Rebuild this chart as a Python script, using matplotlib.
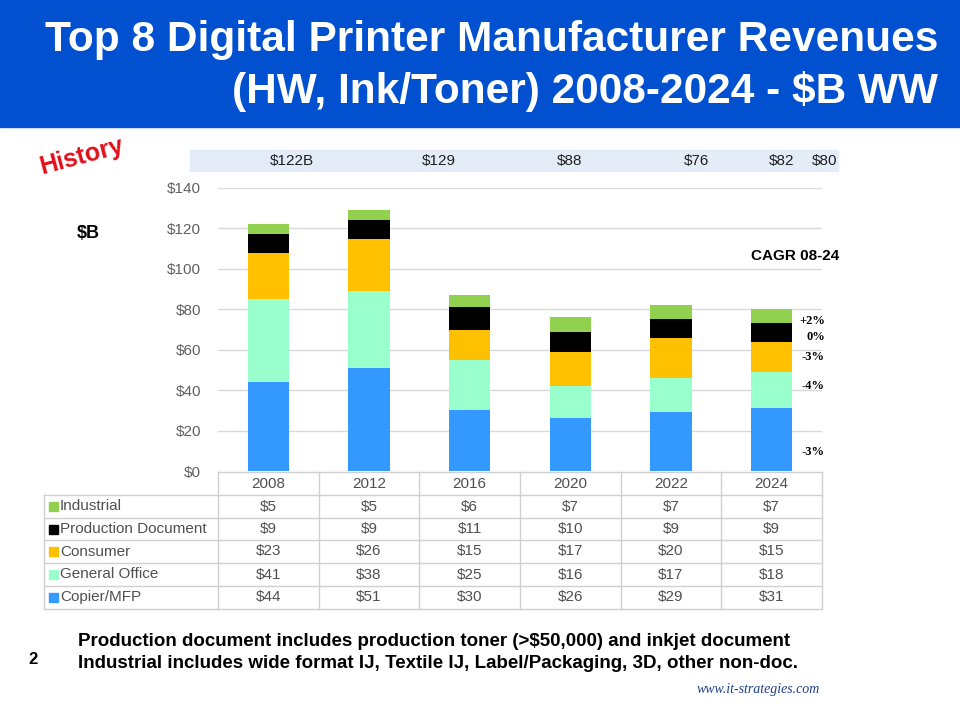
import numpy as np
import matplotlib
matplotlib.use('Agg')
import matplotlib.pyplot as plt
from matplotlib.patches import Rectangle

# Data
years = ['2008', '2012', '2016', '2020', '2022', '2024']
copier = [44, 51, 30, 26, 29, 31]
general_office = [41, 38, 25, 16, 17, 18]
consumer = [23, 26, 15, 17, 20, 15]
production_doc = [9, 9, 11, 10, 9, 9]
industrial = [5, 5, 6, 7, 7, 7]
totals = ['$122B', '$129', '$88', '$76', '$82', '$80']
cagr = ['+2%', '0%', '-3%', '-4%', '-3%']

series_names = ['Industrial', 'Production Document', 'Consumer', 'General Office', 'Copier/MFP']
series_vals = [industrial, production_doc, consumer, general_office, copier]
series_cols = ['#92D050', '#000000', '#FFC000', '#99FFCC', '#3399FF']

W, H = 960, 720
SANS = ['Liberation Sans', 'DejaVu Sans']
SERIF = ['Liberation Serif', 'DejaVu Serif']

fig = plt.figure(figsize=(9.6, 7.2), dpi=100)
fig.patch.set_facecolor('white')

# overlay in pixel coordinates for the annotations and the table
ov = fig.add_axes([0, 0, 1, 1])
ov.set_xlim(0, W)
ov.set_ylim(H, 0)
ov.axis('off')

# title banner
ov.add_patch(Rectangle((0, 0), W, 127, color='#0050D0', zorder=0))
ov.text(938, 40, 'Top 8 Digital Printer Manufacturer Revenues', ha='right', va='center',
        color='white', fontsize=30.5, fontweight='bold', family=SANS)
ov.text(938, 92, '(HW, Ink/Toner) 2008-2024 - $B WW', ha='right', va='center',
        color='white', fontsize=30.5, fontweight='bold', family=SANS)

ov.text(82, 156, 'History', ha='center', va='center', color='#E0101A', fontsize=18,
        fontweight='bold', rotation=15, family=SANS)
ov.text(88, 233, '$B', ha='center', va='center', fontsize=13, fontweight='bold', family=SANS)

# bar chart
ax_l, ax_r, ax_t, ax_b = 218, 822, 188, 471
ax = fig.add_axes([ax_l / W, 1 - ax_b / H, (ax_r - ax_l) / W, (ax_b - ax_t) / H])
x = np.arange(len(years))
bottom = np.zeros(len(years))
for vals, col in zip(series_vals[::-1], series_cols[::-1]):
    ax.bar(x, vals, width=0.41, bottom=bottom, color=col, zorder=3)
    bottom += np.array(vals)
ax.set_xlim(-0.5, len(years) - 0.5)
ax.set_ylim(0, 140)
ax.set_yticks(np.arange(0, 141, 20))
ax.set_yticklabels(['$%d' % v for v in range(0, 141, 20)], family=SANS, fontsize=11, color='#606060')
ax.set_xticks([])
ax.tick_params(axis='y', length=0, pad=12)
ax.grid(axis='y', color='#D9D9D9', linewidth=1, zorder=0)
for s in ax.spines.values():
    s.set_visible(False)
ax.patch.set_alpha(0)

# totals band
ov.add_patch(Rectangle((190, 150), 648, 21, color='#E4ECF8', zorder=0))
tot_x = [292, 439, 570, 697, 782, 825]
for tx, t in zip(tot_x, totals):
    ov.text(tx, 161, t, ha='center', va='center', fontsize=11, family=SANS, color='#202020')

# CAGR
ov.text(795, 256, 'CAGR 08-24', ha='center', va='center', fontsize=11, fontweight='bold', family=SANS)
cagr_y = [321, 337, 357, 386, 452]
for cy, c in zip(cagr_y, cagr):
    ov.text(825, cy, c, ha='right', va='center', fontsize=9, fontweight='bold', family=SERIF)

# data table
col_edges = np.linspace(218, 822, len(years) + 1)
row_edges = [472, 495, 518, 540, 563, 586, 609]
gc = '#D0D0D0'
ov.plot([218, 822], [row_edges[0]] * 2, color=gc, lw=1)
for ry in row_edges[1:]:
    ov.plot([44, 822], [ry, ry], color=gc, lw=1)
for cx in col_edges:
    ov.plot([cx, cx], [row_edges[0], row_edges[-1]], color=gc, lw=1)
ov.plot([44, 44], [row_edges[1], row_edges[-1]], color=gc, lw=1)
centers = (col_edges[:-1] + col_edges[1:]) / 2
for cx, yr in zip(centers, years):
    ov.text(cx, 484, yr, ha='center', va='center', fontsize=11, color='#505050', family=SANS)
for i, (name, vals, col) in enumerate(zip(series_names, series_vals, series_cols)):
    ry = (row_edges[i + 1] + row_edges[i + 2]) / 2
    ov.add_patch(Rectangle((49, ry - 4.5), 9, 9, color=col))
    ov.text(60, ry, name, ha='left', va='center', fontsize=11, color='#505050', family=SANS)
    for cx, v in zip(centers, vals):
        ov.text(cx, ry, '$%d' % v, ha='center', va='center', fontsize=11, color='#505050', family=SANS)

# notes
ov.text(78, 641, 'Production document includes production toner (>$50,000) and inkjet document',
        ha='left', va='center', fontsize=13.5, fontweight='bold', family=SANS)
ov.text(78, 663, 'Industrial includes wide format IJ, Textile IJ, Label/Packaging, 3D, other non-doc.',
        ha='left', va='center', fontsize=13.5, fontweight='bold', family=SANS)
ov.text(33, 660, '2', ha='center', va='center', fontsize=12, fontweight='bold', family=SANS)
ov.text(820, 690, 'www.it-strategies.com', ha='right', va='center', fontsize=10,
        style='italic', color='#1F3F8F', family=SERIF)

fig.savefig('out.png', dpi=100)
